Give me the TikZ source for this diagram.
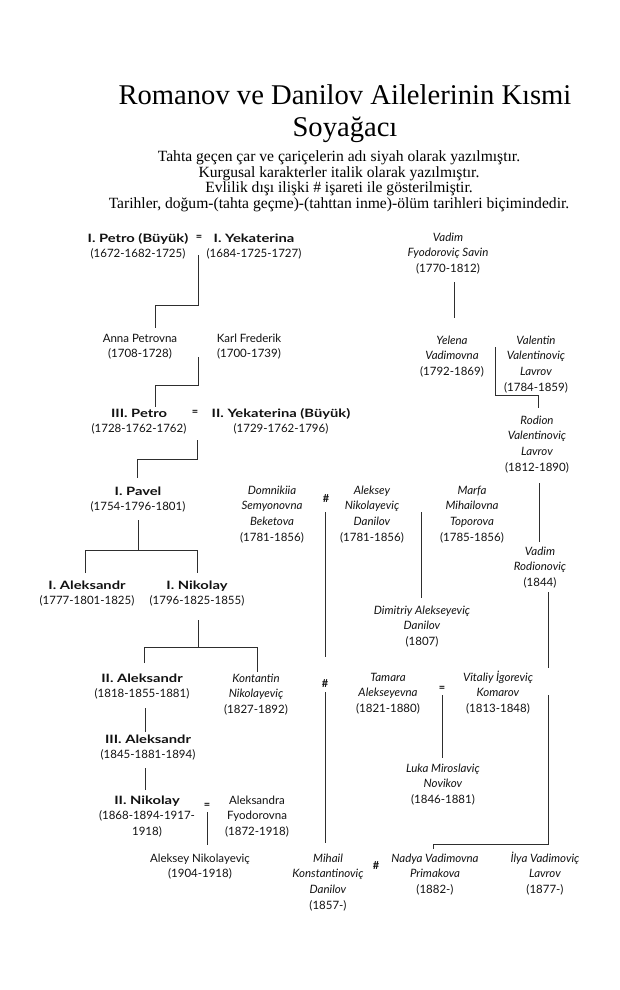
\documentclass[tikz,border=0pt]{standalone}
\usepackage{fontspec}
\setmainfont{Liberation Serif}
\newfontfamily\treefont{Lato}
\newfontfamily\tsarfont{Lato}[FakeStretch=1.28]
\usetikzlibrary{calc}
\definecolor{rvink}{HTML}{111111}
\definecolor{rvline}{HTML}{2E2E2E}
\newcommand{\who}[1]{\begin{tabular}[t]{@{}c@{}}#1\end{tabular}}
\newcommand{\tsar}[1]{{\tsarfont\bfseries #1}}
\newcommand{\fic}[1]{\textit{#1}}

\begin{document}
\begin{tikzpicture}[x=1pt, y=-1pt,
    person/.style={anchor=base, inner sep=1pt, text=rvink,
                   font=\treefont\fontsize{11.5}{15.7}\selectfont},
    tie/.style={inner sep=0pt, text=rvink, font=\treefont\bfseries\fontsize{11}{12}\selectfont},
    branch/.style={rvline, line width=.8pt}]
  \useasboundingbox (0,0) rectangle (620,990);
  % title and notes
  \node[anchor=base, align=center, font=\fontsize{28.6}{31.5}\selectfont] (title) at (345,136)
    {Romanov ve Danilov Ailelerinin Kısmi\\Soyağacı};
  \node[anchor=base, align=center, font=\fontsize{15.6}{15.4}\selectfont] (notes) at (339,208)
    {Tahta geçen çar ve çariçelerin adı siyah olarak yazılmıştır.\\
     Kurgusal karakterler italik olarak yazılmıştır.\\
     Evlilik dışı ilişki \# işareti ile gösterilmiştir.\\
     Tarihler, doğum-(tahta geçme)-(tahttan inme)-ölüm tarihleri biçimindedir.};

  % Romanov line
  \node[person] (petro) at (138,242) {\who{\tsar{I. Petro (Büyük)}\\(1672-1682-1725)}};
  \node[tie] (eq1) at (199,238) {=};
  \node[person] (yek1) at (254,242) {\who{\tsar{I. Yekaterina}\\(1684-1725-1727)}};
  \node[person] (anna) at (140,342) {\who{Anna Petrovna\\(1708-1728)}};
  \node[person] (karl) at (249,342) {\who{Karl Frederik\\(1700-1739)}};
  \node[person] (petro3) at (139,417) {\who{\tsar{III. Petro}\\(1728-1762-1762)}};
  \node[tie] (eq2) at (195,413) {=};
  \node[person] (yek2) at (281,417) {\who{\tsar{II. Yekaterina (Büyük)}\\(1729-1762-1796)}};
  \node[person] (pavel) at (138,495) {\who{\tsar{I. Pavel}\\(1754-1796-1801)}};
  \node[person] (aleks1) at (87,589) {\who{\tsar{I. Aleksandr}\\(1777-1801-1825)}};
  \node[person] (nikolay1) at (197,589) {\who{\tsar{I. Nikolay}\\(1796-1825-1855)}};
  \node[person] (aleks2) at (142,682) {\who{\tsar{II. Aleksandr}\\(1818-1855-1881)}};
  \node[person] (konst) at (256,682) {\who{\fic{Kontantin}\\\fic{Nikolayeviç}\\(1827-1892)}};
  \node[person] (aleks3) at (148,743) {\who{\tsar{III. Aleksandr}\\(1845-1881-1894)}};
  \node[person] (nikolay2) at (147,804) {\who{\tsar{II. Nikolay}\\(1868-1894-1917-\\1918)}};
  \node[tie] (eq3) at (207,806) {=};
  \node[person] (aleksandra) at (257,804) {\who{Aleksandra\\Fyodorovna\\(1872-1918)}};
  \node[person] (aleksey) at (200,862) {\who{Aleksey Nikolayeviç\\(1904-1918)}};

  % Savin / Lavrov line
  \node[person] (savin) at (448,241) {\who{\fic{Vadim}\\\fic{Fyodoroviç Savin}\\(1770-1812)}};
  \node[person] (yelena) at (452,344) {\who{\fic{Yelena}\\\fic{Vadimovna}\\(1792-1869)}};
  \node[person] (valentin) at (536,344) {\who{\fic{Valentin}\\\fic{Valentinoviç}\\\fic{Lavrov}\\(1784-1859)}};
  \node[person] (rodion) at (537,424) {\who{\fic{Rodion}\\\fic{Valentinoviç}\\\fic{Lavrov}\\(1812-1890)}};
  \node[person] (vadimR) at (540,555) {\who{\fic{Vadim}\\\fic{Rodionoviç}\\(1844)}};

  % Danilov line
  \node[person] (domnikiia) at (272,494) {\who{\fic{Domnikiia}\\\fic{Semyonovna}\\\fic{Beketova}\\(1781-1856)}};
  \node[tie] (hash1) at (326,499) {\#};
  \node[person] (alekseyD) at (372,494) {\who{\fic{Aleksey}\\\fic{Nikolayeviç}\\\fic{Danilov}\\(1781-1856)}};
  \node[person] (marfa) at (472,494) {\who{\fic{Marfa}\\\fic{Mihailovna}\\\fic{Toporova}\\(1785-1856)}};
  \node[person] (dimitriy) at (422,614) {\who{\fic{Dimitriy Alekseyeviç}\\\fic{Danilov}\\(1807)}};
  \node[tie] (hash2) at (325,684) {\#};
  \node[person] (tamara) at (388,681) {\who{\fic{Tamara}\\\fic{Alekseyevna}\\(1821-1880)}};
  \node[tie] (eq4) at (442,689) {=};
  \node[person] (vitaliy) at (498,681) {\who{\fic{Vitaliy İgoreviç}\\\fic{Komarov}\\(1813-1848)}};
  \node[person] (luka) at (443,772) {\who{\fic{Luka Miroslaviç}\\\fic{Novikov}\\(1846-1881)}};
  \node[person] (mihail) at (328,862) {\who{\fic{Mihail}\\\fic{Konstantinoviç}\\\fic{Danilov}\\(1857-)}};
  \node[tie] (hash3) at (376,866) {\#};
  \node[person] (nadya) at (435,862) {\who{\fic{Nadya Vadimovna}\\\fic{Primakova}\\(1882-)}};
  \node[person] (ilya) at (545,862) {\who{\fic{İlya Vadimoviç}\\\fic{Lavrov}\\(1877-)}};

  % connectors, left
  \draw[branch] (eq1) ++(-1,17) |- ($(anna.base)+(15,-37)$) -- ++(0,23);
  \draw[branch] (anna.base) ++(58,15) |- ($(petro3.base)+(16,-32)$) -- ++(0,22);
  \draw[branch] (petro3.base) ++(58,23) |- ($(pavel.base)+(-1,-36)$) -- ++(0,19);
  \draw[branch] (pavel.base) ++(0,25) -- ++(0,30);
  \draw[branch] ($(aleks1.base)+(-2,-16)$) |- ($(nikolay1.base)+(0,-39)$) -- ++(0,23);
  \draw[branch] (nikolay1.base) ++(1,31) -- ++(0,27);
  \draw[branch] ($(aleks2.base)+(2,-19)$) |- ($(konst.base)+(1,-35)$) -- ++(0,25);
  \draw[branch] (aleks2.base) ++(3,26) -- ($(aleks3.base)+(-3,-11)$);
  \draw[branch] (aleks3.base) ++(-3,25) -- ($(nikolay2.base)+(-2,-14)$);
  \draw[branch] (eq3) ++(0,6) -- ($(aleksey.base)+(7,-17)$);
  % connectors, right
  \draw[branch] (savin.base) ++(6,41) -- ($(yelena.base)+(2,-26)$);
  \draw[branch] (yelena.base) ++(43,3) |- ($(rodion.base)+(1,-29)$) -- ++(0,13);
  \draw[branch] (rodion.base) ++(2,59) -- ($(vadimR.base)+(-1,-13)$);
  \draw[branch] (vadimR.base) ++(8,37) -- ($(vitaliy.base)+(50,-13)$);
  \draw[branch] (vitaliy.base) ++(50,14) |- ($(nadya.base)+(-2,-18)$) -- ++(0,5);
  \draw[branch] (hash1) ++(-1,13) -- ($(hash2)+(0,-27)$);
  \draw[branch] (hash2) ++(0,8) -- ($(mihail.base)+(-3,-19)$);
  \draw[branch] (alekseyD.base) ++(49,18) -- ($(dimitriy.base)+(-1,-16)$);
  \draw[branch] (eq4) ++(0,6) -- ($(luka.base)+(-1,-14)$);
\end{tikzpicture}
\end{document}
